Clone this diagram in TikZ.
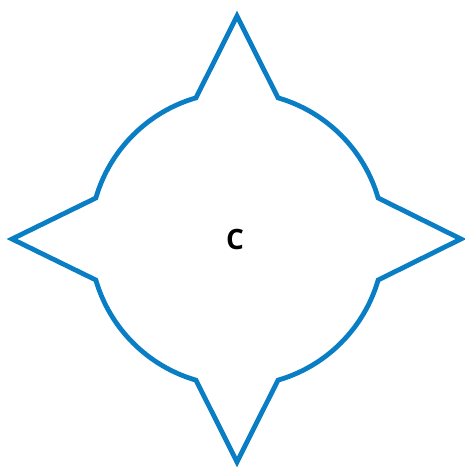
\documentclass[tikz,border=0pt]{standalone}
\usepackage{fontspec}
\setmainfont{Open Sans}
\definecolor{starblue}{RGB}{10,126,197}
\begin{document}
\begin{tikzpicture}[x=1pt,y=1pt,
  starline/.style={draw=starblue, line width=4.8pt, line join=miter},
  lbl/.style={font=\fontsize{28}{30}\selectfont\bfseries, inner sep=0pt}]
\useasboundingbox (-237,-228) rectangle (228,239);
\coordinate (tt) at (0,223);
\coordinate (tr) at (224,0);
\coordinate (tb) at (0,-223);
\coordinate (tl) at (-225,0);
\draw[starline] (tt) -- (73.8:147) arc[start angle=73.8, end angle=16.2, radius=147]
  -- (tr) -- (-16.2:147) arc[start angle=-16.2, end angle=-73.8, radius=147]
  -- (tb) -- (-106.2:147) arc[start angle=-106.2, end angle=-163.8, radius=147]
  -- (tl) -- (163.8:147) arc[start angle=163.8, end angle=106.2, radius=147]
  -- cycle;
\node[lbl] (c) at (-2,0) {C};
\end{tikzpicture}
\end{document}
